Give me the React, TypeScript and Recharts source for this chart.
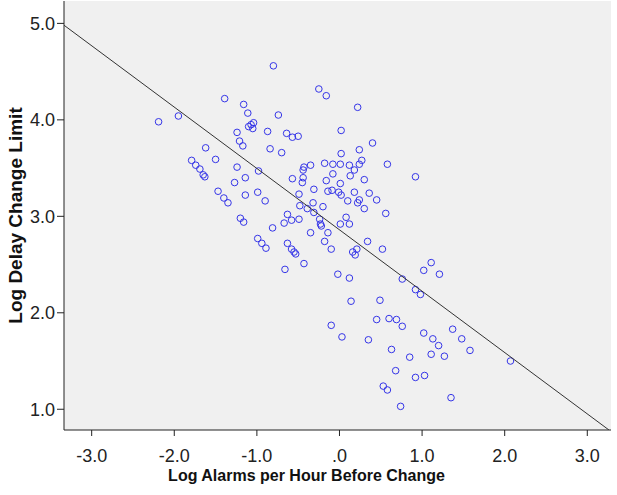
import { ScatterChart, Scatter, XAxis, YAxis, CartesianGrid } from 'recharts';

// log alarms per hour before change (x) and log delay change limit (y)
const alarmsLog = [
  -2.19, -1.95, -1.79, -1.74, -1.69, -1.65, -1.63, -1.62, -1.5, -1.39,
  -1.16, -1.11, -1.04, -1.1, -1.07, -1.05, -1.24, -0.87, -1.21, -1.17,
  -1.24, -0.98, -0.84, -0.8, -0.25, -0.16, 0.22, -0.74, -0.64, -0.57,
  -0.5, 0.02, -0.7, 0.4, 0.24, 0.02, 0.27, 0.24, -0.18, -0.08,
  0.01, 0.12, -0.43, -0.44, -0.35, 0.58, -1.14, -1.27, -1.47, -1.4,
  -1.35, -1.14, -0.99, -0.9, -1.2, -1.16, -0.99, -0.94, -0.89, -0.81,
  0.18, -0.08, -0.57, -0.44, -0.45, -0.16, 0.13, 0.3, 0.01, -0.31,
  -0.14, -0.09, -0.01, 0.02, 0.18, 0.36, 0.45, -0.49, 0.1, 0.24,
  0.22, -0.32, -0.48, -0.39, -0.2, -0.31, 0.3, 0.56, -0.63, -0.67,
  -0.58, -0.49, -0.24, -0.23, -0.22, 0.08, 0.01, 0.12, -0.35, -0.14,
  -0.18, -0.63, -0.58, -0.55, -0.53, -0.1, 0.16, 0.19, 0.21, 0.34,
  0.52, -0.43, -0.66, -0.02, 0.12, 0.14, 0.49, 0.92, 1.11, 1.02,
  1.21, 0.76, 0.92, 0.98, -0.1, 0.03, 0.35, 0.45, 0.6, 0.69,
  0.76, 1.02, 1.13, 1.2, 1.11, 1.27, 1.37, 1.48, 1.58, 0.63,
  0.85, 0.68, 0.92, 1.03, 0.53, 0.58, 0.74, 1.35, 2.07,
];
const delayLog = [
  3.98, 4.04, 3.58, 3.53, 3.49, 3.43, 3.41, 3.71, 3.59, 4.22,
  4.16, 4.07, 3.97, 3.93, 3.95, 3.91, 3.87, 3.88, 3.78, 3.73,
  3.51, 3.47, 3.7, 4.56, 4.32, 4.25, 4.13, 4.05, 3.86, 3.82,
  3.83, 3.89, 3.66, 3.76, 3.69, 3.65, 3.58, 3.54, 3.55, 3.54,
  3.54, 3.53, 3.51, 3.48, 3.53, 3.54, 3.4, 3.35, 3.26, 3.19,
  3.14, 3.22, 3.25, 3.16, 2.98, 2.94, 2.77, 2.72, 2.67, 2.88,
  3.48, 3.44, 3.39, 3.4, 3.35, 3.37, 3.42, 3.38, 3.34, 3.28,
  3.26, 3.27, 3.25, 3.22, 3.25, 3.24, 3.17, 3.23, 3.16, 3.17,
  3.14, 3.14, 3.11, 3.08, 3.1, 3.04, 3.08, 3.03, 3.02, 2.93,
  2.96, 2.97, 2.97, 2.92, 2.9, 2.99, 2.92, 2.92, 2.83, 2.83,
  2.74, 2.72, 2.66, 2.63, 2.61, 2.66, 2.63, 2.6, 2.66, 2.74,
  2.66, 2.51, 2.45, 2.4, 2.36, 2.12, 2.13, 3.41, 2.52, 2.44,
  2.4, 2.35, 2.24, 2.19, 1.87, 1.75, 1.72, 1.93, 1.94, 1.93,
  1.86, 1.79, 1.73, 1.66, 1.57, 1.55, 1.83, 1.73, 1.61, 1.62,
  1.54, 1.4, 1.33, 1.35, 1.24, 1.2, 1.03, 1.12, 1.5,
];

const xTicks = [-3, -2, -1, 0, 1, 2, 3];
const yTicks = [1, 2, 3, 4, 5];

// fitted line: delay = intercept + slope * alarms
const fitIntercept = 2.86;
const fitSlope = -0.636;

const xDomain = [-3.335, 3.287];
const yDomain = [0.785, 5.232];

const points = alarmsLog.map((x, i) => ({ x, y: delayLog[i] }));
const fitLine = [
  { x: xDomain[0], y: fitIntercept + fitSlope * xDomain[0] },
  { x: (yDomain[0] - fitIntercept) / fitSlope, y: yDomain[0] },
];

const font = '"Liberation Sans", Arial, sans-serif';

const Ring = (props: any) => (
  <circle cx={props.cx} cy={props.cy} r={3.3} fill="none" stroke="#3535e8" strokeWidth={1} />
);

const fmtX = (v: number) => (v === 0 ? '.0' : v.toFixed(1));

export default function App() {
  return (
    <div style={{ fontFamily: font }}>
      <style>{'body{margin:0}'}</style>
      <ScatterChart width={617} height={495} margin={{ top: 1, right: 6, bottom: 0, left: 0 }}>
        <CartesianGrid horizontal={false} vertical={false} fill="#f0f0f0" />
        <XAxis
          type="number"
          dataKey="x"
          domain={xDomain}
          ticks={xTicks}
          tickFormatter={fmtX}
          allowDataOverflow
          height={65}
          tickSize={6}
          tickMargin={13}
          stroke="#222"
          tick={{ fill: '#222', fontSize: 18, fontFamily: font }}
          label={{
            value: 'Log Alarms per Hour Before Change',
            position: 'center',
            dx: -31,
            dy: 13,
            style: { fontSize: 16, fontWeight: 'bold', fill: '#111', fontFamily: font },
          }}
        />
        <YAxis
          type="number"
          dataKey="y"
          domain={yDomain}
          ticks={yTicks}
          tickFormatter={(v: number) => v.toFixed(1)}
          allowDataOverflow
          width={64}
          tickSize={7}
          tickMargin={2}
          stroke="#222"
          tick={{ fill: '#222', fontSize: 18, fontFamily: font }}
          label={{
            value: 'Log Delay Change Limit',
            angle: -90,
            position: 'center',
            dx: -17,
            style: { fontSize: 19, fontWeight: 'bold', fill: '#111', fontFamily: font },
          }}
        />
        <Scatter data={points} shape={Ring} isAnimationActive={false} />
        <Scatter
          data={fitLine}
          line={{ stroke: '#333', strokeWidth: 1 }}
          shape={() => <g />}
          isAnimationActive={false}
        />
      </ScatterChart>
    </div>
  );
}
